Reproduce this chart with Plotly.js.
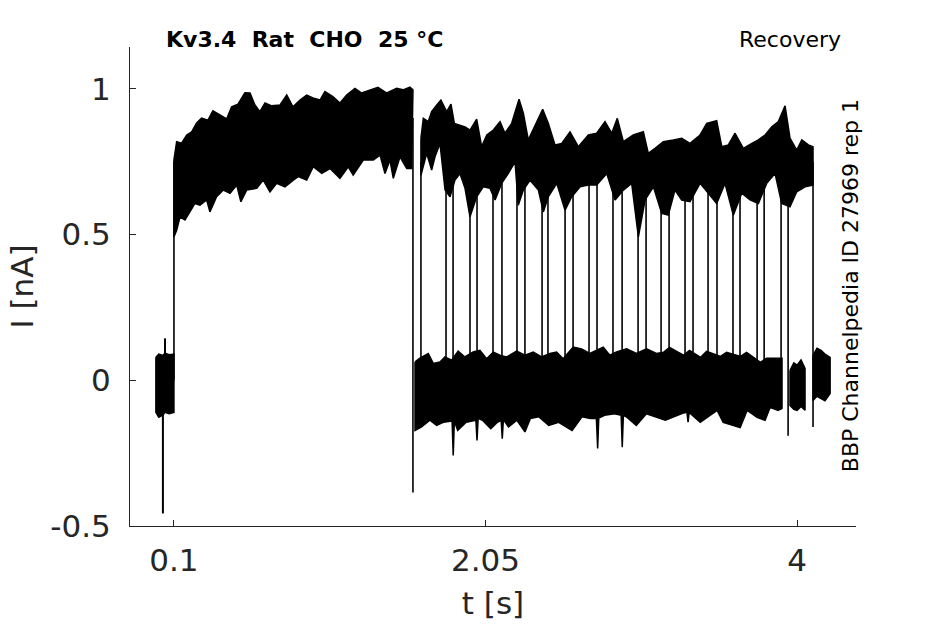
<!DOCTYPE html>
<html>
<head>
<meta charset="utf-8">
<script src="https://cdn.plot.ly/plotly-3.0.1.min.js"></script>
<style>html,body{margin:0;padding:0;background:#fff;}#chart{width:945px;height:624px;}</style>
</head>
<body>
<div id="chart"></div>
<script>
// ---- data ----
// baseline before the prepulse (t in s, I in nA)
const baseT = [-0.013, 0.005, 0.031, 0.044, 0.07, 0.1];
const baseUp = [0.079, 0.09, 0.085, 0.093, 0.088, 0.09];
const baseLo = [-0.11, -0.127, -0.12, -0.11, -0.115, -0.11];
const baseSpikeT = [0.031, 0.044];
const baseSpikeY = [-0.457, 0.144];

// prepulse band envelope
const preUpT = [0.1, 0.117, 0.148, 0.18, 0.211, 0.242, 0.273, 0.313, 0.344, 0.388, 0.43, 0.461, 0.501, 0.544, 0.576, 0.607, 0.638, 0.67, 0.712, 0.764, 0.806, 0.845, 0.889, 0.931, 0.97, 1.014, 1.045, 1.095, 1.139, 1.181, 1.233, 1.275, 1.327, 1.377, 1.432, 1.494, 1.534, 1.577, 1.596];
const preUpY = [0.756, 0.819, 0.814, 0.842, 0.853, 0.883, 0.9, 0.893, 0.925, 0.911, 0.897, 0.939, 0.948, 0.987, 0.986, 0.945, 0.922, 0.952, 0.942, 0.945, 0.979, 0.939, 0.962, 0.979, 0.969, 0.962, 0.991, 0.974, 0.952, 0.979, 1.002, 0.986, 0.997, 1.006, 0.986, 1.002, 0.997, 1.006, 0.997];
const preLoT = [0.1, 0.117, 0.138, 0.169, 0.2, 0.231, 0.263, 0.305, 0.325, 0.367, 0.409, 0.451, 0.493, 0.519, 0.555, 0.618, 0.659, 0.701, 0.743, 0.795, 0.847, 0.878, 0.931, 0.972, 1.025, 1.077, 1.139, 1.191, 1.222, 1.285, 1.348, 1.39, 1.421, 1.452, 1.473, 1.515, 1.557, 1.588];
const preLoY = [0.492, 0.515, 0.561, 0.55, 0.578, 0.607, 0.601, 0.619, 0.578, 0.63, 0.653, 0.642, 0.67, 0.613, 0.653, 0.659, 0.687, 0.647, 0.676, 0.664, 0.687, 0.699, 0.687, 0.733, 0.71, 0.727, 0.693, 0.733, 0.704, 0.756, 0.756, 0.773, 0.71, 0.756, 0.693, 0.767, 0.727, 0.727];

// band near zero after the prepulse
const postUpT = [1.609, 1.64, 1.692, 1.723, 1.765, 1.796, 1.838, 1.879, 1.921, 1.973, 2.015, 2.057, 2.099, 2.14, 2.182, 2.245, 2.297, 2.349, 2.401, 2.453, 2.495, 2.536, 2.599, 2.651, 2.703, 2.745, 2.787, 2.828, 2.87, 2.933, 2.995, 3.058, 3.12, 3.164, 3.202, 3.289, 3.327, 3.396, 3.434, 3.521, 3.559, 3.646, 3.684, 3.771, 3.809, 3.906];
const postUpY = [0.063, 0.076, 0.092, 0.058, 0.063, 0.08, 0.069, 0.1, 0.08, 0.097, 0.103, 0.074, 0.097, 0.086, 0.08, 0.1, 0.086, 0.097, 0.08, 0.092, 0.097, 0.074, 0.114, 0.108, 0.092, 0.103, 0.114, 0.086, 0.097, 0.108, 0.092, 0.108, 0.092, 0.096, 0.113, 0.086, 0.103, 0.079, 0.099, 0.082, 0.096, 0.082, 0.096, 0.062, 0.076, 0.076];
const postLoT = [1.609, 1.65, 1.702, 1.744, 1.786, 1.841, 1.848, 1.855, 1.876, 1.929, 1.99, 1.997, 2.004, 2.031, 2.083, 2.125, 2.148, 2.155, 2.162, 2.194, 2.247, 2.297, 2.331, 2.383, 2.446, 2.508, 2.592, 2.654, 2.706, 2.744, 2.752, 2.759, 2.795, 2.858, 2.899, 2.906, 2.913, 2.931, 2.994, 3.057, 3.176, 3.283, 3.311, 3.318, 3.325, 3.394, 3.5, 3.538, 3.644, 3.688, 3.75, 3.8, 3.831, 3.881, 3.906];
const postLoY = [-0.172, -0.16, -0.137, -0.155, -0.144, -0.14, -0.258, -0.14, -0.172, -0.144, -0.137, -0.206, -0.13, -0.137, -0.166, -0.144, -0.137, -0.2, -0.135, -0.16, -0.137, -0.177, -0.131, -0.125, -0.155, -0.144, -0.172, -0.125, -0.131, -0.13, -0.234, -0.13, -0.12, -0.115, -0.12, -0.23, -0.12, -0.125, -0.155, -0.115, -0.137, -0.113, -0.11, -0.144, -0.11, -0.144, -0.103, -0.144, -0.162, -0.103, -0.127, -0.137, -0.093, -0.103, -0.096];

// late short pieces near zero
const tailAT = [3.956, 3.98, 4.0, 4.025, 4.05];
const tailAUp = [0.034, 0.06, 0.052, 0.07, 0.041];
const tailALo = [-0.086, -0.1, -0.103, -0.09, -0.103];
const tailBT = [4.1, 4.125, 4.15, 4.175, 4.207];
const tailBUp = [0.086, 0.11, 0.103, 0.09, 0.079];
const tailBLo = [-0.069, -0.055, -0.062, -0.07, -0.045];

// test-pulse band (recovered current)
const testUpT = [1.646, 1.661, 1.692, 1.713, 1.745, 1.771, 1.807, 1.834, 1.855, 1.89, 1.922, 1.953, 1.995, 2.026, 2.058, 2.099, 2.141, 2.172, 2.214, 2.26, 2.287, 2.318, 2.36, 2.408, 2.443, 2.485, 2.527, 2.579, 2.631, 2.694, 2.746, 2.798, 2.84, 2.875, 2.913, 2.975, 3.038, 3.069, 3.111, 3.163, 3.226, 3.278, 3.33, 3.393, 3.435, 3.497, 3.529, 3.57, 3.612, 3.664, 3.717, 3.758, 3.8, 3.842, 3.883, 3.925, 3.956, 3.998, 4.03, 4.071, 4.1];
const testUpY = [0.831, 0.899, 0.888, 0.922, 0.945, 0.962, 0.922, 0.948, 0.882, 0.876, 0.87, 0.859, 0.896, 0.802, 0.842, 0.859, 0.888, 0.848, 0.882, 0.965, 0.917, 0.825, 0.876, 0.93, 0.882, 0.808, 0.813, 0.853, 0.802, 0.842, 0.848, 0.888, 0.848, 0.899, 0.819, 0.842, 0.853, 0.779, 0.796, 0.819, 0.825, 0.831, 0.813, 0.842, 0.882, 0.891, 0.802, 0.808, 0.848, 0.796, 0.813, 0.825, 0.842, 0.87, 0.888, 0.942, 0.831, 0.79, 0.825, 0.808, 0.802];
const testLoT = [1.646, 1.682, 1.713, 1.734, 1.765, 1.797, 1.828, 1.859, 1.89, 1.922, 1.953, 1.995, 2.036, 2.078, 2.11, 2.151, 2.193, 2.235, 2.255, 2.287, 2.329, 2.381, 2.412, 2.443, 2.496, 2.548, 2.59, 2.642, 2.694, 2.746, 2.809, 2.861, 2.913, 2.965, 3.007, 3.049, 3.101, 3.153, 3.194, 3.236, 3.278, 3.33, 3.393, 3.445, 3.497, 3.549, 3.601, 3.654, 3.706, 3.758, 3.81, 3.862, 3.904, 3.956, 3.998, 4.05, 4.1];
const testLoY = [0.704, 0.779, 0.722, 0.767, 0.813, 0.653, 0.63, 0.687, 0.71, 0.659, 0.561, 0.63, 0.664, 0.659, 0.619, 0.676, 0.71, 0.75, 0.601, 0.653, 0.687, 0.653, 0.578, 0.63, 0.676, 0.584, 0.63, 0.664, 0.67, 0.67, 0.71, 0.619, 0.653, 0.676, 0.492, 0.619, 0.664, 0.573, 0.567, 0.653, 0.619, 0.613, 0.676, 0.642, 0.607, 0.676, 0.567, 0.642, 0.619, 0.607, 0.676, 0.71, 0.607, 0.596, 0.647, 0.664, 0.67];

// voltage-step transitions (vertical edges)
const stepT = [0.1, 1.596, 1.646, 1.803, 1.847, 1.953, 1.997, 2.097, 2.153, 2.247, 2.297, 2.404, 2.441, 2.548, 2.598, 2.698, 2.748, 2.848, 2.905, 3.005, 3.055, 3.149, 3.199, 3.299, 3.349, 3.443, 3.499, 3.599, 3.643, 3.75, 3.794, 3.9, 3.944, 4.1];
const stepLo = [0.0, -0.385, -0.05, -0.05, -0.05, -0.05, -0.05, -0.05, -0.05, -0.05, -0.05, -0.05, -0.05, -0.05, -0.05, -0.05, -0.05, -0.05, -0.05, -0.05, -0.05, -0.05, -0.05, -0.05, -0.05, -0.05, -0.05, -0.05, -0.05, -0.05, -0.05, -0.1, -0.19, -0.16];
const stepHi = [0.75, 0.9, 0.75, 0.72, 0.72, 0.72, 0.72, 0.72, 0.72, 0.72, 0.72, 0.72, 0.72, 0.72, 0.72, 0.72, 0.72, 0.72, 0.72, 0.72, 0.72, 0.72, 0.72, 0.72, 0.72, 0.72, 0.72, 0.72, 0.72, 0.72, 0.72, 0.72, 0.75, 0.75];

const xTicks = [0.1, 2.05, 4];
const xTickText = ['0.1', '2.05', '4'];
const yTicks = [-0.5, 0, 0.5, 1];
const yTickText = ['-0.5', '0', '0.5', '1'];

// ---- helpers ----
function band(tu, yu, tl, yl) {
  return {
    x: tu.concat(tl.slice().reverse(), [tu[0]]),
    y: yu.concat(yl.slice().reverse(), [yu[0]]),
    type: 'scatter', mode: 'lines', fill: 'toself',
    fillcolor: '#000', line: {color: '#000', width: 1.5},
    hoverinfo: 'skip', showlegend: false
  };
}
const sx = [], sy = [];
stepT.forEach((t, i) => { sx.push(t, t, null); sy.push(stepLo[i], stepHi[i], null); });
const spx = [], spy = [];
baseSpikeT.forEach((t, i) => { spx.push(t, t, null); spy.push(0, baseSpikeY[i], null); });

const traces = [
  band(baseT, baseUp, baseT, baseLo),
  band(preUpT, preUpY, preLoT, preLoY),
  band(postUpT, postUpY, postLoT, postLoY),
  band(tailAT, tailAUp, tailAT, tailALo),
  band(tailBT, tailBUp, tailBT, tailBLo),
  band(testUpT, testUpY, testLoT, testLoY),
  {x: sx, y: sy, type: 'scatter', mode: 'lines', line: {color: '#000', width: 1.6}, hoverinfo: 'skip', showlegend: false, connectgaps: false},
  {x: spx, y: spy, type: 'scatter', mode: 'lines', line: {color: '#000', width: 2}, hoverinfo: 'skip', showlegend: false, connectgaps: false}
];

const font = 'DejaVu Sans, Liberation Sans, sans-serif';
const layout = {
  width: 945, height: 624,
  margin: {l: 130, r: 89, t: 47, b: 98},
  paper_bgcolor: '#fff', plot_bgcolor: '#fff',
  showlegend: false,
  font: {family: font, color: '#262626'},
  xaxis: {
    range: [-0.175, 4.369], showgrid: false, zeroline: false,
    showline: true, linecolor: '#262626', linewidth: 1,
    ticks: 'inside', ticklen: 6, tickcolor: '#262626',
    tickvals: xTicks, ticktext: xTickText, ticklabelstandoff: 7,
    tickfont: {size: 31, color: '#262626', family: font},
    title: {text: 't [s]', font: {size: 31, color: '#262626', family: font}, standoff: 15}
  },
  yaxis: {
    range: [-0.5, 1.144], showgrid: false, zeroline: false,
    showline: true, linecolor: '#262626', linewidth: 1,
    ticks: 'inside', ticklen: 6, tickcolor: '#262626',
    tickvals: yTicks, ticktext: yTickText, ticklabelstandoff: 12,
    tickfont: {size: 31, color: '#262626', family: font},
    title: {text: 'I [nA]', font: {size: 31, color: '#262626', family: font}, standoff: 7}
  },
  annotations: [
    {text: '<b>Kv3.4\u00a0\u00a0Rat\u00a0\u00a0CHO\u00a0\u00a025 °C</b>', xref: 'paper', yref: 'paper',
     x: 0.0465, y: 1.015, xanchor: 'left', yanchor: 'middle', showarrow: false,
     font: {size: 22, color: '#000', family: font}},
    {text: 'Recovery', xref: 'paper', yref: 'paper',
     x: 0.982, y: 1.015, xanchor: 'right', yanchor: 'middle', showarrow: false,
     font: {size: 22, color: '#000', family: font}},
    {text: 'BBP Channelpedia ID 27969 rep 1', xref: 'paper', yref: 'paper',
     x: 0.992, y: 0.501, xanchor: 'center', yanchor: 'middle', textangle: -90, showarrow: false,
     font: {size: 22, color: '#000', family: font}}
  ]
};
Plotly.newPlot('chart', traces, layout, {displayModeBar: false, staticPlot: true});
</script>
</body>
</html>
